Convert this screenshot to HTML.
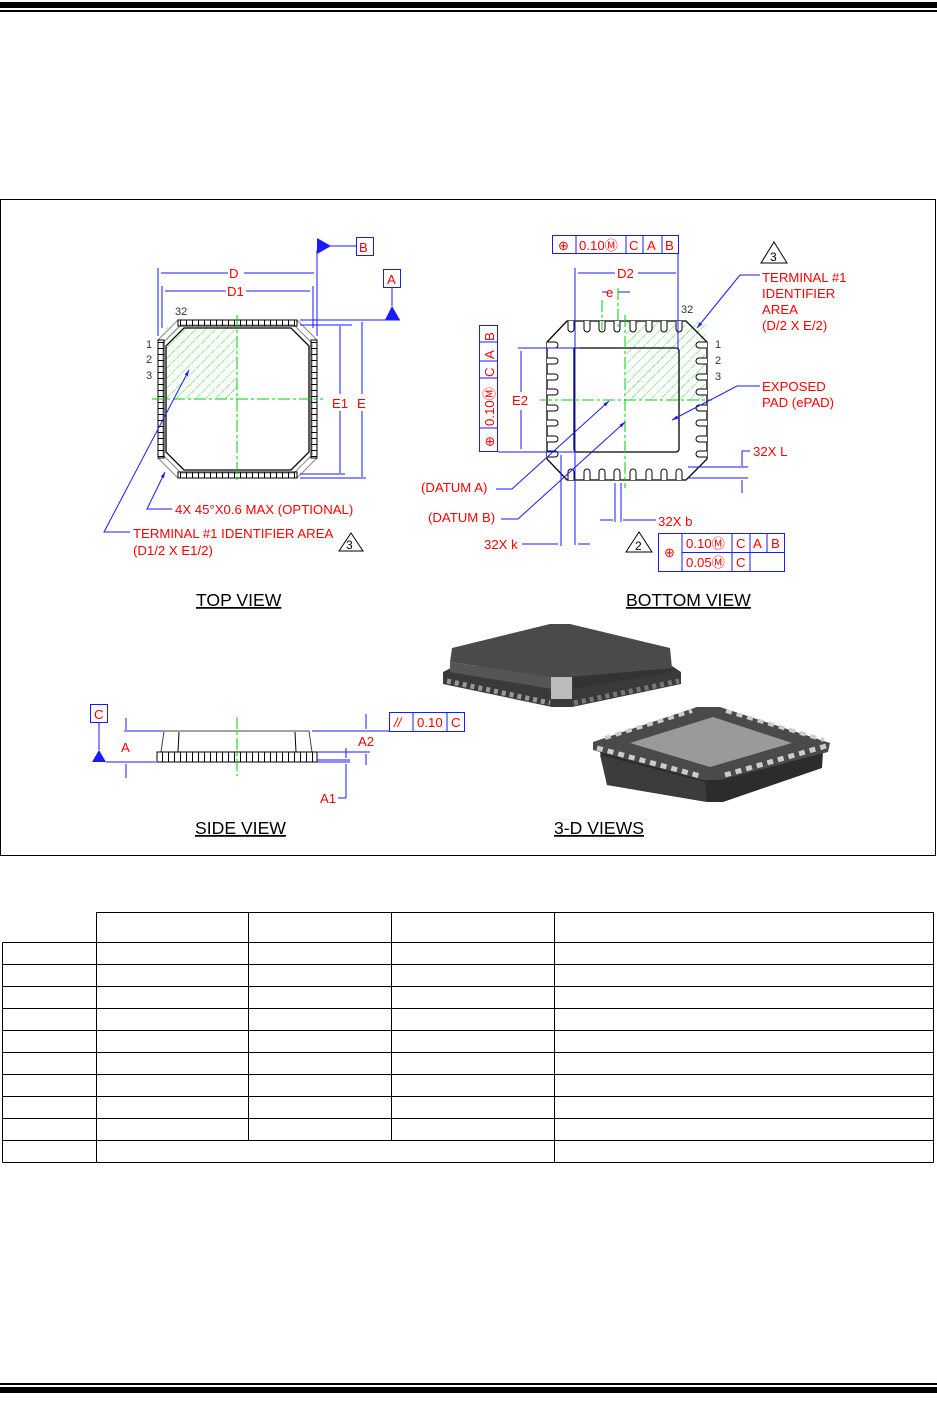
<!DOCTYPE html>
<html><head><meta charset="utf-8"><style>
html,body{margin:0;padding:0;background:#fff}
svg{display:block}
text{font-family:"Liberation Sans",Arial,sans-serif}
.r{fill:#f00;font-size:13.2px}
.k{fill:#333;font-size:11px}
.t{fill:#000;font-size:17.6px;text-decoration:underline}
.b{stroke:#1a1aff;stroke-width:1;fill:none}
.g{stroke:#00d000;stroke-width:1;fill:none;stroke-dasharray:12 3 3 3}
.blk{stroke:#000;stroke-width:1.3;fill:none}
.gr{stroke:#888;stroke-width:1;fill:none}
</style></head><body>
<svg width="937" height="1411" viewBox="0 0 937 1411">
<defs>
<pattern id="hat" width="7" height="7" patternUnits="userSpaceOnUse" patternTransform="rotate(45)">
<line x1="0" y1="0" x2="0" y2="7" stroke="#30e030" stroke-width="1" stroke-dasharray="3 1"/>
</pattern>
<pattern id="vt" width="6" height="10" patternUnits="userSpaceOnUse"><line x1="0.5" y1="0" x2="0.5" y2="10" stroke="#000"/></pattern>
<pattern id="ht" width="10" height="6" patternUnits="userSpaceOnUse"><line x1="0" y1="0.5" x2="10" y2="0.5" stroke="#000"/></pattern>
<marker id="ar" viewBox="0 0 10 10" refX="10" refY="5" markerWidth="6" markerHeight="6" orient="auto"><path d="M0,2L10,5L0,8z" fill="#1a1aff"/></marker>
</defs>
<rect x="0" y="2" width="937" height="6" fill="#000"/>
<rect x="0" y="10" width="937" height="2" fill="#000"/>
<rect x="0" y="1383" width="937" height="2" fill="#000"/>
<rect x="0" y="1387" width="937" height="6" fill="#000"/>
<rect x="0.5" y="199.5" width="935" height="656" fill="none" stroke="#000"/>

<!-- TOP VIEW -->
<rect x="166" y="327" width="71" height="72" fill="url(#hat)"/>
<polygon points="178,320 297,320 317,340 317,458 297,478 178,478 158,458 158,340" class="gr"/>
<polygon points="181,325 294,325 312,343 312,455 294,473 181,473 163,455 163,343" class="gr"/>
<polygon points="184,328 291,328 309,346 309,452 291,470 184,470 166,452 166,346" class="blk"/>
<rect x="178" y="320" width="119" height="6" fill="url(#vt)" stroke="#000"/>
<rect x="178" y="472" width="119" height="6" fill="url(#vt)" stroke="#000"/>
<rect x="158" y="340" width="6" height="118" fill="url(#ht)" stroke="#000"/>
<rect x="311" y="340" width="6" height="118" fill="url(#ht)" stroke="#000"/>
<line x1="237" y1="315" x2="237" y2="480" class="g"/>
<line x1="152" y1="399" x2="323" y2="399" class="g"/>
<text x="175" y="315" class="k">32</text>
<text x="146" y="348" class="k">1</text>
<text x="146" y="363" class="k">2</text>
<text x="146" y="379" class="k">3</text>
<line x1="158" y1="268" x2="158" y2="336" class="b"/>
<line x1="317" y1="250" x2="317" y2="336" class="b"/>
<line x1="161" y1="273" x2="228" y2="273" class="b"/><line x1="244" y1="273" x2="314" y2="273" class="b"/>
<text x="229" y="278" class="r">D</text>
<line x1="162" y1="286" x2="162" y2="328" class="b"/><line x1="313" y1="286" x2="313" y2="328" class="b"/>
<line x1="165" y1="291" x2="226" y2="291" class="b"/><line x1="246" y1="291" x2="310" y2="291" class="b"/>
<text x="227" y="296" class="r">D1</text>
<polygon points="317,238 331,246 317,254" fill="#1a1aff"/>
<line x1="317" y1="246" x2="356" y2="246" class="b"/>
<rect x="356.5" y="237.5" width="17" height="18" class="b"/>
<text x="359" y="252" class="r">B</text>
<rect x="383.5" y="269.5" width="17" height="18" class="b"/>
<text x="387" y="284" class="r">A</text>
<line x1="392" y1="288" x2="392" y2="306" class="b"/>
<polygon points="385,320 392,306 400,320" fill="#1a1aff"/>
<line x1="300" y1="320" x2="400" y2="320" class="b"/>
<line x1="300" y1="325" x2="352" y2="325" class="b"/>
<line x1="300" y1="474" x2="345" y2="474" class="b"/>
<line x1="300" y1="478" x2="366" y2="478" class="b"/>
<line x1="340" y1="326" x2="340" y2="394" class="b"/><line x1="340" y1="411" x2="340" y2="473" class="b"/>
<text x="332" y="408" class="r">E1</text>
<line x1="362" y1="322" x2="362" y2="394" class="b"/><line x1="362" y1="411" x2="362" y2="477" class="b"/>
<text x="357" y="408" class="r">E</text>
<polyline points="172,509 147,509 165,472" class="b" marker-end="url(#ar)"/>
<text x="175" y="514" class="r">4X 45°X0.6 MAX (OPTIONAL)</text>
<polyline points="130,532 104,532 189,370" class="b" marker-end="url(#ar)"/>
<text x="133" y="538" class="r">TERMINAL #1 IDENTIFIER AREA</text>
<text x="133" y="555" class="r">(D1/2 X E1/2)</text>
<polygon points="351,533 363,551 339,551" fill="none" stroke="#000"/>
<text x="346" y="549" style="font-size:12px">3</text>
<text x="196" y="606" class="t">TOP VIEW</text>

<!-- BOTTOM VIEW -->
<rect x="626" y="322" width="80" height="78" fill="url(#hat)"/>
<polygon points="567,321 686,321 707,342 707,459 686,480 567,480 547,459 547,342" class="blk"/>
<g fill="#fff" stroke="#000" stroke-width="1">
<path d="M568,321v8a3,3 0 0 0 6,0v-8"/><path d="M584,321v8a3,3 0 0 0 6,0v-8"/><path d="M599,321v8a3,3 0 0 0 6,0v-8"/><path d="M614,321v8a3,3 0 0 0 6,0v-8"/>
<path d="M630,321v8a3,3 0 0 0 6,0v-8"/><path d="M646,321v8a3,3 0 0 0 6,0v-8"/><path d="M661,321v8a3,3 0 0 0 6,0v-8"/><path d="M676,321v8a3,3 0 0 0 6,0v-8"/>
<path d="M568,480v-8a3,3 0 0 1 6,0v8"/><path d="M584,480v-8a3,3 0 0 1 6,0v8"/><path d="M599,480v-8a3,3 0 0 1 6,0v8"/><path d="M614,480v-8a3,3 0 0 1 6,0v8"/>
<path d="M630,480v-8a3,3 0 0 1 6,0v8"/><path d="M646,480v-8a3,3 0 0 1 6,0v8"/><path d="M661,480v-8a3,3 0 0 1 6,0v8"/><path d="M676,480v-8a3,3 0 0 1 6,0v8"/>
<path d="M547,342h8a3,3 0 0 1 0,6h-8"/><path d="M547,358h8a3,3 0 0 1 0,6h-8"/><path d="M547,374h8a3,3 0 0 1 0,6h-8"/><path d="M547,389h8a3,3 0 0 1 0,6h-8"/>
<path d="M547,405h8a3,3 0 0 1 0,6h-8"/><path d="M547,420h8a3,3 0 0 1 0,6h-8"/><path d="M547,436h8a3,3 0 0 1 0,6h-8"/><path d="M547,451h8a3,3 0 0 1 0,6h-8"/>
<path d="M707,342h-8a3,3 0 0 0 0,6h8"/><path d="M707,358h-8a3,3 0 0 0 0,6h8"/><path d="M707,374h-8a3,3 0 0 0 0,6h8"/><path d="M707,389h-8a3,3 0 0 0 0,6h8"/>
<path d="M707,405h-8a3,3 0 0 0 0,6h8"/><path d="M707,420h-8a3,3 0 0 0 0,6h8"/><path d="M707,436h-8a3,3 0 0 0 0,6h8"/><path d="M707,451h-8a3,3 0 0 0 0,6h8"/>
</g>
<path d="M574,348H676a3,3 0 0 1 3,3V449a3,3 0 0 1-3,3H577a3,3 0 0 1-3-3z" fill="none" stroke="#000" stroke-width="1.3"/>
<line x1="625" y1="315" x2="625" y2="488" class="g"/>
<line x1="540" y1="400" x2="712" y2="400" class="g"/>
<line x1="602" y1="300" x2="602" y2="330" class="g"/>
<text x="681" y="313" class="k">32</text>
<text x="715" y="348" class="k">1</text>
<text x="715" y="364" class="k">2</text>
<text x="715" y="380" class="k">3</text>
<rect x="552.5" y="235.5" width="126" height="18" class="b"/>
<line x1="576" y1="236" x2="576" y2="254" class="b"/><line x1="626" y1="236" x2="626" y2="254" class="b"/><line x1="643" y1="236" x2="643" y2="254" class="b"/><line x1="662" y1="236" x2="662" y2="254" class="b"/>
<text x="558" y="250" class="r">⊕</text><text x="579" y="250" class="r">0.10Ⓜ</text><text x="629" y="250" class="r">C</text><text x="647" y="250" class="r">A</text><text x="665" y="250" class="r">B</text>
<line x1="678" y1="254" x2="678" y2="350" class="b"/>
<line x1="575" y1="268" x2="575" y2="545" class="b"/>
<line x1="578" y1="273" x2="615" y2="273" class="b"/><line x1="638" y1="273" x2="676" y2="273" class="b"/>
<text x="617" y="278" class="r">D2</text>
<line x1="602" y1="292" x2="608" y2="292" class="b"/><line x1="618" y1="292" x2="630" y2="292" class="b"/>
<text x="606" y="297" class="r">e</text>
<line x1="618" y1="288" x2="618" y2="330" class="g"/>
<rect x="479.5" y="325.5" width="18" height="126" class="b"/>
<line x1="480" y1="342" x2="498" y2="342" class="b"/><line x1="480" y1="361" x2="498" y2="361" class="b"/><line x1="480" y1="378" x2="498" y2="378" class="b"/><line x1="480" y1="428" x2="498" y2="428" class="b"/>
<text transform="translate(494,341) rotate(-90)" class="r">B</text>
<text transform="translate(494,359) rotate(-90)" class="r">A</text>
<text transform="translate(494,377) rotate(-90)" class="r">C</text>
<text transform="translate(494,426) rotate(-90)" class="r">0.10Ⓜ</text>
<text transform="translate(494,447) rotate(-90)" class="r">⊕</text>
<line x1="498" y1="452" x2="576" y2="452" class="b"/>
<line x1="518" y1="348" x2="580" y2="348" class="b"/>
<line x1="521" y1="351" x2="521" y2="392" class="b"/><line x1="521" y1="410" x2="521" y2="449" class="b"/>
<text x="512" y="405" class="r">E2</text>
<line x1="740" y1="275" x2="760" y2="275" class="b"/><polyline points="740,275 697,328" class="b" marker-end="url(#ar)"/>
<text x="762" y="282" class="r">TERMINAL #1</text>
<text x="762" y="298" class="r">IDENTIFIER</text>
<text x="762" y="314" class="r">AREA</text>
<text x="762" y="330" class="r">(D/2 X E/2)</text>
<polygon points="774,242 787,263 761,263" fill="none" stroke="#000"/>
<text x="770" y="261" style="font-size:12px">3</text>
<polyline points="760,386 737,386 672,420" class="b" marker-end="url(#ar)"/>
<text x="762" y="391" class="r">EXPOSED</text>
<text x="762" y="407" class="r">PAD (ePAD)</text>
<line x1="688" y1="467" x2="748" y2="467" class="b"/>
<line x1="688" y1="478" x2="748" y2="478" class="b"/>
<polyline points="750,451 742,451 742,466" class="b"/>
<line x1="742" y1="480" x2="742" y2="493" class="b"/>
<text x="753" y="456" class="r">32X L</text>
<text x="421" y="492" class="r">(DATUM A)</text>
<polyline points="496,489 512,489 609,401" class="b" marker-end="url(#ar)"/>
<text x="428" y="522" class="r">(DATUM B)</text>
<polyline points="501,519 518,519 625,422" class="b" marker-end="url(#ar)"/>
<line x1="561" y1="455" x2="561" y2="546" class="b"/>
<text x="484" y="549" class="r">32X k</text>
<line x1="522" y1="544" x2="558" y2="544" class="b"/>
<line x1="578" y1="544" x2="590" y2="544" class="b"/>
<line x1="615" y1="483" x2="615" y2="522" class="b"/><line x1="621" y1="483" x2="621" y2="522" class="b"/>
<line x1="600" y1="520" x2="613" y2="520" class="b"/><line x1="623" y1="520" x2="656" y2="520" class="b"/>
<text x="658" y="526" class="r">32X b</text>
<polygon points="639,532 652,552 626,552" fill="none" stroke="#000"/>
<text x="635" y="550" style="font-size:12px">2</text>
<rect x="658.5" y="533.5" width="126" height="38" class="b"/>
<line x1="682" y1="534" x2="682" y2="572" class="b"/><line x1="682" y1="552.5" x2="784" y2="552.5" class="b"/>
<line x1="732" y1="534" x2="732" y2="572" class="b"/><line x1="750" y1="534" x2="750" y2="572" class="b"/><line x1="767" y1="534" x2="767" y2="552" class="b"/>
<text x="664" y="557" class="r">⊕</text>
<text x="686" y="548" class="r">0.10Ⓜ</text><text x="736" y="548" class="r">C</text><text x="753" y="548" class="r">A</text><text x="771" y="548" class="r">B</text>
<text x="686" y="567" class="r">0.05Ⓜ</text><text x="736" y="567" class="r">C</text>
<text x="626" y="606" class="t">BOTTOM VIEW</text>

<!-- SIDE VIEW -->
<rect x="90.5" y="704.5" width="17" height="18" class="b"/>
<text x="94" y="719" class="r">C</text>
<line x1="99" y1="723" x2="99" y2="750" class="b"/>
<polygon points="92,762 99,750 106,762" fill="#1a1aff"/>
<line x1="106" y1="762" x2="156" y2="762" class="b"/>
<line x1="124" y1="731" x2="163" y2="731" class="b"/>
<line x1="126" y1="718" x2="126" y2="730" class="b"/><line x1="126" y1="764" x2="126" y2="778" class="b"/>
<text x="121" y="752" class="r">A</text>
<polygon points="164,731 309,731 312,752 161,752" fill="none" stroke="#444"/>
<line x1="179" y1="732" x2="178" y2="752" stroke="#000"/><line x1="295" y1="732" x2="296" y2="752" stroke="#000"/>
<rect x="157" y="752" width="160" height="10" fill="url(#vt)" stroke="#000"/>
<line x1="237" y1="717" x2="237" y2="776" class="g"/>
<line x1="312" y1="731" x2="389" y2="731" class="b"/>
<line x1="317" y1="752" x2="370" y2="752" class="b"/>
<line x1="317" y1="760" x2="350" y2="760" class="b"/>
<line x1="317" y1="762" x2="350" y2="762" class="b"/>
<line x1="366" y1="714" x2="366" y2="729" class="b"/><line x1="366" y1="754" x2="366" y2="765" class="b"/>
<text x="358" y="746" class="r">A2</text>
<line x1="346" y1="748" x2="346" y2="758" class="b"/><line x1="346" y1="764" x2="346" y2="798" class="b"/>
<line x1="338" y1="798" x2="346" y2="798" class="b"/>
<text x="320" y="803" class="r">A1</text>
<rect x="389.5" y="712.5" width="75" height="19" class="b"/>
<line x1="413" y1="713" x2="413" y2="732" class="b"/><line x1="447" y1="713" x2="447" y2="732" class="b"/>
<text x="394" y="727" class="r" style="font-style:italic">//</text>
<text x="417" y="727" class="r">0.10</text><text x="451" y="727" class="r">C</text>
<text x="195" y="834" class="t">SIDE VIEW</text>

<!-- 3D top package -->
<polygon points="443,672 455,666 672,666 681,672 681,684 572,707 552,707 443,684" fill="#3a3a3a"/>
<line x1="447" y1="681" x2="550" y2="703" stroke="#999" stroke-width="5" stroke-dasharray="4 4"/>
<line x1="574" y1="703" x2="679" y2="681" stroke="#777" stroke-width="5" stroke-dasharray="4 4"/>
<polygon points="452,648 550,624 570,624 670,648 672,668 573,677 552,677 450,662" fill="#4a4a4a"/>
<polygon points="450,662 552,677 552,689 450,672" fill="#555"/>
<polygon points="573,677 672,668 672,672 573,689" fill="#333"/>
<rect x="551" y="677" width="21" height="22" fill="#bbb"/>
<!-- 3D bottom package -->
<polygon points="600,752 823,752 822,768 723,802 707,802 607,785" fill="#2c2c2c"/>
<polygon points="600,755 705,782 707,802 607,785" fill="#3c3c3c"/>
<polygon points="593,742 697,707 720,707 830,743 828,752 720,780 703,780 593,750" fill="#4a4a4a"/>
<polygon points="630,743 713,717 792,743 710,767" fill="#9a9a9a"/>
<line x1="597" y1="748" x2="700" y2="776" stroke="#ccc" stroke-width="5" stroke-dasharray="6 5"/>
<line x1="725" y1="775" x2="826" y2="746" stroke="#ccc" stroke-width="5" stroke-dasharray="6 5"/>
<line x1="605" y1="738" x2="692" y2="711" stroke="#ccc" stroke-width="4" stroke-dasharray="6 5"/>
<line x1="726" y1="711" x2="824" y2="740" stroke="#ccc" stroke-width="4" stroke-dasharray="6 5"/>
<text x="554" y="834" class="t">3-D VIEWS</text>

<!-- TABLE -->
<g stroke="#000" stroke-width="1" fill="none">
<rect x="96.5" y="912.5" width="837" height="30"/>
<line x1="2.5" y1="942.5" x2="2.5" y2="1162.5"/>
<line x1="2.5" y1="942.5" x2="96.5" y2="942.5"/>
<line x1="96.5" y1="942.5" x2="96.5" y2="1162.5"/>
<line x1="933.5" y1="942.5" x2="933.5" y2="1162.5"/>
<line x1="248.5" y1="912.5" x2="248.5" y2="1140.5"/>
<line x1="391.5" y1="912.5" x2="391.5" y2="1140.5"/>
<line x1="554.5" y1="912.5" x2="554.5" y2="1162.5"/>
<line x1="2.5" y1="964.5" x2="933.5" y2="964.5"/>
<line x1="2.5" y1="986.5" x2="933.5" y2="986.5"/>
<line x1="2.5" y1="1008.5" x2="933.5" y2="1008.5"/>
<line x1="2.5" y1="1030.5" x2="933.5" y2="1030.5"/>
<line x1="2.5" y1="1052.5" x2="933.5" y2="1052.5"/>
<line x1="2.5" y1="1074.5" x2="933.5" y2="1074.5"/>
<line x1="2.5" y1="1096.5" x2="933.5" y2="1096.5"/>
<line x1="2.5" y1="1118.5" x2="933.5" y2="1118.5"/>
<line x1="2.5" y1="1140.5" x2="933.5" y2="1140.5"/>
<line x1="2.5" y1="1162.5" x2="933.5" y2="1162.5"/>
</g>
</svg>
</body></html>
